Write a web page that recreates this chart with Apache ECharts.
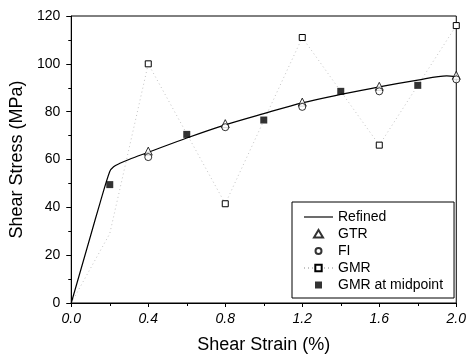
<!DOCTYPE html>
<html>
<head>
<meta charset="utf-8">
<script src="https://cdn.jsdelivr.net/npm/echarts@6/dist/echarts.min.js"></script>
<style>html,body{margin:0;padding:0;background:#fff}#c{width:469px;height:360px}</style>
</head>
<body>
<div id="c"></div>
<script>
var refinedX = [0, 0.05, 0.1, 0.15, 0.2, 0.22, 0.25, 0.3, 0.4, 0.6, 0.8, 1.0, 1.2, 1.4, 1.6, 1.8, 1.95, 2.0];
var refinedY = [0, 14, 28, 42, 55, 57, 58.3, 60, 63, 69, 74.5, 79.2, 83.7, 87.2, 90.4, 93.2, 95, 94.6];
var gtrX = [0.4, 0.8, 1.2, 1.6, 2.0];
var gtrY = [63.5, 75, 84, 90.6, 95.2];
var fiX = [0.4, 0.8, 1.2, 1.6, 2.0];
var fiY = [61, 73.5, 82, 88.5, 93.5];
var gmrX = [0, 0.2, 0.4, 0.8, 1.2, 1.6, 2.0];
var gmrY = [0, 29, 100, 41.5, 111, 66, 116];
var midX = [0.2, 0.6, 1.0, 1.4, 1.8];
var midY = [49.5, 70.5, 76.5, 88.5, 91];
var xTicks = [0.0, 0.4, 0.8, 1.2, 1.6, 2.0];
var yTicks = [0, 20, 40, 60, 80, 100, 120];

function zip(a, b) { return a.map(function (v, i) { return [v, b[i]]; }); }

var font = 'Liberation Sans, Arial, sans-serif';
var chart = echarts.init(document.getElementById('c'), null, {renderer: 'canvas'});
chart.setOption({
  animation: false,
  backgroundColor: '#fff',
  grid: {left: 70, right: 10, top: 16, bottom: 57, show: true, borderColor: '#000', borderWidth: 1},
  xAxis: {
    type: 'value', min: xTicks[0], max: xTicks[xTicks.length - 1], interval: 0.4,
    name: 'Shear Strain (%)', nameLocation: 'middle', nameGap: 33,
    nameTextStyle: {fontFamily: font, fontSize: 18, color: '#000'},
    axisLine: {show: true, onZero: false, lineStyle: {color: '#000', width: 1}},
    axisTick: {show: true, length: 4, lineStyle: {color: '#000'}},
    minorTick: {show: true, splitNumber: 2, length: 3, lineStyle: {color: '#000'}},
    splitLine: {show: false},
    axisLabel: {fontFamily: font, fontSize: 14, color: '#000', fontStyle: 'italic', margin: 9,
      formatter: function (v) { return v.toFixed(1); }}
  },
  yAxis: {
    type: 'value', min: yTicks[0], max: yTicks[yTicks.length - 1], interval: 20,
    name: 'Shear Stress (MPa)', nameLocation: 'middle', nameGap: 41,
    nameTextStyle: {fontFamily: font, fontSize: 18, color: '#000'},
    axisLine: {show: true, onZero: false, lineStyle: {color: '#000', width: 1}},
    axisTick: {show: true, length: 5, lineStyle: {color: '#000'}},
    minorTick: {show: true, splitNumber: 2, length: 3, lineStyle: {color: '#000'}},
    splitLine: {show: false},
    axisLabel: {fontFamily: font, fontSize: 14, color: '#000', margin: 11}
  },
  legend: {
    orient: 'vertical', left: 292, top: 202,
    padding: [8, 11, 6, 11], itemGap: 3, itemWidth: 29, itemHeight: 8,
    borderColor: '#000', borderWidth: 1, backgroundColor: '#fff',
    textStyle: {fontFamily: font, fontSize: 14, color: '#000'},
    data: [
      {name: 'Refined', icon: 'path://M0,0L100,0L100,4L0,4Z'},
      {name: 'GTR', icon: 'path://M0,0M29,8M10,7.5L14.5,0L19,7.5Z'},
      {name: 'FI', icon: 'path://M0,0M29,8M17.5,4A3,3,0,1,1,11.5,4A3,3,0,1,1,17.5,4Z'},
      {name: 'GMR'},
      {name: 'GMR at midpoint', icon: 'path://M0,0M29,8M11,0.5L18,0.5L18,7.5L11,7.5Z'}
    ]
  },
  graphic: [{
    type: 'text', left: 332, top: 220,
    style: {text: '\u0394t = 0.4 sec', font: '17px ' + font, fill: '#000'}
  }],
  series: [
    {name: 'Refined', type: 'line', data: zip(refinedX, refinedY), symbol: 'none', smooth: 0.3,
      lineStyle: {color: '#000', width: 1.2}, itemStyle: {color: '#000'}, z: 3},
    {name: 'GMR', type: 'line',
      data: zip(gmrX, gmrY).map(function (p) { return p[0] < 0.3 ? {value: p, symbol: 'none'} : p; }),
      symbol: 'rect', symbolSize: 6, showAllSymbol: true,
      lineStyle: {color: '#c4c4c4', width: 1, type: [1, 3]},
      itemStyle: {color: '#fff', borderColor: '#000', borderWidth: 1},
      clip: false, z: 2},
    {name: 'GTR', type: 'scatter', data: zip(gtrX, gtrY), symbol: 'triangle', symbolSize: 8,
      itemStyle: {color: '#fff', borderColor: '#000', borderWidth: 1}, clip: false, z: 4},
    {name: 'FI', type: 'scatter', data: zip(fiX, fiY), symbol: 'circle', symbolSize: 7,
      itemStyle: {color: '#fff', borderColor: '#000', borderWidth: 1}, clip: false, z: 4},
    {name: 'GMR at midpoint', type: 'scatter', data: zip(midX, midY), symbol: 'rect', symbolSize: 7,
      itemStyle: {color: '#000'}, clip: false, z: 4}
  ]
});
</script>
</body>
</html>
